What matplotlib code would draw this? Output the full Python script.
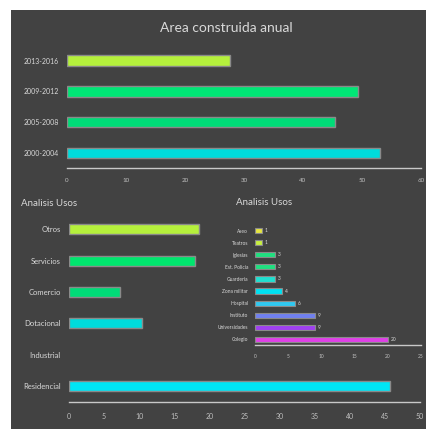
import matplotlib
matplotlib.use("Agg")
import matplotlib.pyplot as plt
from matplotlib.patches import Rectangle

plt.rcParams['font.family'] = ['Lato', 'DejaVu Sans']

# Data
periods = ["2000-2004", "2005-2008", "2009-2012", "2013-2016"]
area = [53.0, 45.4, 49.4, 27.6]
period_colors = ["#00DCDC", "#00DC78", "#00E676", "#B5F03C"]

uses = ["Residencial", "Industrial", "Dotacional", "Comercio", "Servicios", "Otros"]
use_vals = [45.7, 0, 10.4, 7.2, 17.9, 18.5]
use_colors = ["#00E5F5", "#00E5F5", "#00DCDC", "#00DC78", "#00E66E", "#B5F03C"]

dot = ["Colegio", "Universidades", "Instituto", "Hospital", "Zona militar",
       "Guarderia", "Est. Policia", "Iglesias", "Teatros", "Aseo"]
dot_vals = [20, 9, 9, 6, 4, 3, 3, 3, 1, 1]
dot_colors = ["#E040E8", "#A040F0", "#7080F0", "#30C8F0", "#00E0F0",
              "#20E0D0", "#20E080", "#20E080", "#C8F040", "#E6E640"]

W, H = 427, 429
BG = "#424242"
EDGE = "#8a8a8a"
TXT = "#d9d9d9"
TICK = "#bfbfbf"

fig = plt.figure(figsize=(W / 100, H / 100), dpi=100)
fig.patch.set_facecolor("white")
fig.patches.append(Rectangle((11 / W, 0), (W - 11) / W, (H - 10) / H,
                             transform=fig.transFigure, facecolor=BG,
                             edgecolor="none", zorder=-10))


def px_axes(left, right, top, bottom):
    return fig.add_axes([left / W, (H - bottom) / H, (right - left) / W, (bottom - top) / H])


def style(ax, xmax, step, label_fs, tick_fs, pad):
    ax.set_facecolor("none")
    for s in ["top", "right", "left"]:
        ax.spines[s].set_visible(False)
    ax.spines["bottom"].set_color("#c8c8c8")
    ax.spines["bottom"].set_linewidth(1.0)
    ax.set_xlim(0, xmax)
    ax.set_xticks(range(0, xmax + 1, step))
    ax.tick_params(axis="x", length=0, colors=TICK, labelsize=tick_fs, pad=pad)
    ax.tick_params(axis="y", length=0, colors=TXT, labelsize=label_fs, pad=6)


# Top chart
ax1 = px_axes(67, 421, 45.3, 168.4)
ax1.barh(range(len(periods)), area, height=0.34, color=period_colors,
         edgecolor=EDGE, linewidth=1.0)
ax1.set_yticks(range(len(periods)))
ax1.set_yticklabels(periods)
ax1.set_ylim(-0.5, len(periods) - 0.5)
style(ax1, 60, 10, 5, 4.5, 7)
fig.text(226 / W, 1 - 28 / H, "Area construida anual", color=TXT, fontsize=10,
         ha="center", va="center")

# Bottom-left chart
ax2 = px_axes(69, 420, 213.6, 401.7)
ax2.barh(range(len(uses)), use_vals, height=0.32, color=use_colors,
         edgecolor=[EDGE if v > 0 else "none" for v in use_vals], linewidth=1.0)
ax2.set_yticks(range(len(uses)))
ax2.set_yticklabels(uses)
ax2.set_ylim(-0.5, len(uses) - 0.5)
style(ax2, 50, 5, 5.5, 5, 8)
fig.text(21 / W, 1 - 204 / H, "Analisis Usos", color=TXT, fontsize=7,
         ha="left", va="center")

# Inset chart
ax3 = px_axes(255, 421, 224.7, 345.3)
ax3.barh(range(len(dot)), dot_vals, height=0.42, color=dot_colors,
         edgecolor=EDGE, linewidth=0.8)
for i, v in enumerate(dot_vals):
    ax3.text(v + 0.5, i, str(v), color=TXT, fontsize=3.5, va="center", ha="left")
ax3.set_yticks(range(len(dot)))
ax3.set_yticklabels(dot)
ax3.set_ylim(-0.5, len(dot) - 0.5)
style(ax3, 25, 5, 3.5, 3.5, 6)
ax3.tick_params(axis="y", pad=5)
fig.text(236 / W, 1 - 202 / H, "Analisis Usos", color=TXT, fontsize=7,
         ha="left", va="center")

fig.savefig("out.png", dpi=100, facecolor=fig.get_facecolor())
